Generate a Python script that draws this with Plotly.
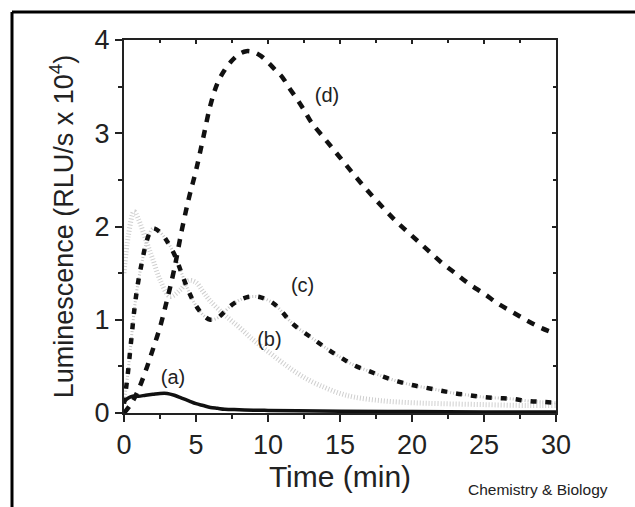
import plotly.graph_objects as go

# (a) solid
t_a = [0, 0.3, 0.6, 1, 1.5, 2, 2.5, 3, 3.5, 4, 4.5, 5, 5.5, 6, 6.5, 7, 8, 9, 10, 12, 15, 20, 25, 30]
v_a = [0.12, 0.16, 0.18, 0.18, 0.19, 0.2, 0.21, 0.21, 0.19, 0.16, 0.13, 0.1, 0.08, 0.06, 0.05, 0.04, 0.035, 0.03, 0.028, 0.025, 0.02, 0.015, 0.012, 0.01]

# (b) light grey dotted
t_b = [0, 0.3, 0.7, 1, 1.6, 2, 2.5, 3.2, 3.9, 4.5, 5, 5.5, 6, 7, 8, 9, 10, 11, 12, 13, 14, 15, 16, 18, 20, 22, 25, 28, 30]
v_b = [1.5, 1.9, 2.16, 2.08, 1.82, 1.65, 1.43, 1.25, 1.32, 1.42, 1.4, 1.3, 1.2, 1.05, 0.92, 0.78, 0.66, 0.54, 0.43, 0.34, 0.27, 0.21, 0.17, 0.13, 0.11, 0.1, 0.09, 0.08, 0.08]

# (c) dash-dot
t_c = [0, 0.25, 0.5, 0.75, 1, 1.25, 1.5, 1.75, 2, 2.5, 3, 3.5, 4, 4.5, 5, 5.5, 6, 6.5, 7, 7.5, 8, 8.5, 9, 9.5, 10, 10.5, 11, 11.5, 12, 13, 14, 15, 16, 17, 18, 19, 20, 21, 22, 23, 24, 25, 26, 27, 28, 29, 30]
v_c = [0.1, 0.4, 0.78, 1.15, 1.42, 1.62, 1.8, 1.92, 1.98, 1.94, 1.84, 1.7, 1.5, 1.3, 1.15, 1.05, 1.0, 1.02, 1.09, 1.16, 1.21, 1.24, 1.25, 1.24, 1.21, 1.16, 1.08, 0.99, 0.92, 0.81, 0.7, 0.6, 0.51, 0.45, 0.39, 0.34, 0.3, 0.27, 0.24, 0.21, 0.19, 0.17, 0.16, 0.15, 0.13, 0.12, 0.11]

# (d) dashed
t_d = [0, 0.5, 1, 1.5, 2, 2.5, 3, 3.5, 4, 4.5, 5, 5.5, 6, 6.5, 7, 7.5, 8, 8.5, 9, 9.5, 10, 10.5, 11, 11.5, 12, 12.5, 13, 14, 15, 16, 17, 18, 19, 20, 21, 22, 23, 24, 25, 26, 27, 28, 29, 30]
v_d = [0, 0.1, 0.25, 0.45, 0.68, 0.92, 1.22, 1.55, 1.95, 2.3, 2.6, 2.95, 3.3, 3.54, 3.68, 3.78, 3.85, 3.88, 3.87, 3.83, 3.76, 3.68, 3.6, 3.48, 3.37, 3.25, 3.12, 2.93, 2.74, 2.55, 2.37, 2.2, 2.04, 1.9, 1.76, 1.62, 1.5, 1.38, 1.28, 1.17, 1.08, 0.99, 0.91, 0.85]

labels = ["(a)", "(b)", "(c)", "(d)"]
label_t = [3.4, 10.1, 12.4, 14.1]
label_v = [0.37, 0.77, 1.35, 3.39]

x_ticks = [0, 5, 10, 15, 20, 25, 30]
y_ticks = [0, 1, 2, 3, 4]

FONT = "Liberation Sans, Arial"
INK = "#222222"

fig = go.Figure()
fig.add_trace(go.Scatter(x=t_b, y=v_b, mode="lines", line=dict(color="#cfcfcf", width=5, dash="1px,2px", shape="spline")))
fig.add_trace(go.Scatter(x=t_c, y=v_c, mode="lines", line=dict(color="#c4c4c4", width=3, dash="1px,2px", shape="spline")))
fig.add_trace(go.Scatter(x=t_c, y=v_c, mode="lines", line=dict(color="#111111", width=4.5, dash="6px,9px", shape="spline")))
fig.add_trace(go.Scatter(x=t_d, y=v_d, mode="lines", line=dict(color="#111111", width=4.5, dash="8px,8px", shape="spline")))
fig.add_trace(go.Scatter(x=t_a, y=v_a, mode="lines", line=dict(color="#111111", width=3.5, shape="spline")))
fig.add_trace(go.Scatter(x=label_t, y=label_v, mode="text", text=labels,
                         textfont=dict(family=FONT, size=20, color=INK)))
# invisible trace to carry the mirrored (top/right) axes with inward ticks
fig.add_trace(go.Scatter(x=[None], y=[None], xaxis="x2", yaxis="y2", mode="lines", hoverinfo="skip"))

axis_common = dict(showline=True, linecolor=INK, linewidth=2, mirror=True,
                   ticks="outside", ticklen=7, tickwidth=2, tickcolor=INK,
                   showgrid=False, zeroline=False,
                   tickfont=dict(family=FONT, size=27, color=INK))

fig.update_layout(
    width=635, height=507,
    margin=dict(l=124, r=79, t=40, b=94),
    plot_bgcolor="white", paper_bgcolor="white",
    showlegend=False,
    xaxis=dict(range=[0, 30], tickvals=x_ticks,
               minor=dict(dtick=2.5, ticklen=4, tickwidth=2, tickcolor=INK, ticks="outside"),
               title=dict(text="Time (min)", font=dict(family=FONT, size=30, color=INK), standoff=0),
               **axis_common),
    yaxis=dict(range=[0, 4], tickvals=y_ticks,
               minor=dict(dtick=0.5, ticklen=4, tickwidth=2, tickcolor=INK, ticks="outside"),
               title=dict(text="Luminescence (RLU/s x 10<sup>4</sup>)", font=dict(family=FONT, size=27, color=INK), standoff=13),
               **axis_common),
    xaxis2=dict(range=[0, 30], overlaying="x", side="top", anchor="y", tickvals=x_ticks,
                ticks="inside", ticklen=4, tickwidth=1.5, tickcolor=INK, showticklabels=False,
                minor=dict(dtick=2.5, ticklen=3, tickwidth=1.5, tickcolor=INK, ticks="inside"),
                showgrid=False, zeroline=False, showline=False),
    yaxis2=dict(range=[0, 4], overlaying="y", side="right", anchor="x", tickvals=y_ticks,
                ticks="inside", ticklen=4, tickwidth=1.5, tickcolor=INK, showticklabels=False,
                minor=dict(dtick=0.5, ticklen=3, tickwidth=1.5, tickcolor=INK, ticks="inside"),
                showgrid=False, zeroline=False, showline=False),
    annotations=[dict(text="Chemistry & Biology", xref="paper", yref="paper",
                      x=(538 - 124) / 432, y=(413 - 490) / 373, xanchor="center", yanchor="middle",
                      showarrow=False, font=dict(family=FONT, size=15.5, color=INK))],
    shapes=[
        dict(type="line", xref="paper", yref="paper", x0=(12 - 124) / 432, x1=(640 - 124) / 432,
             y0=(413 - 12) / 373, y1=(413 - 12) / 373, line=dict(color="black", width=3)),
        dict(type="line", xref="paper", yref="paper", x0=(12 - 124) / 432, x1=(12 - 124) / 432,
             y0=(413 - 12) / 373, y1=(413 - 512) / 373, line=dict(color="black", width=3)),
    ],
)

fig.write_html("out.html", config={"displayModeBar": False},
               post_script="document.body.style.margin='0px';document.body.style.overflow='hidden';")
